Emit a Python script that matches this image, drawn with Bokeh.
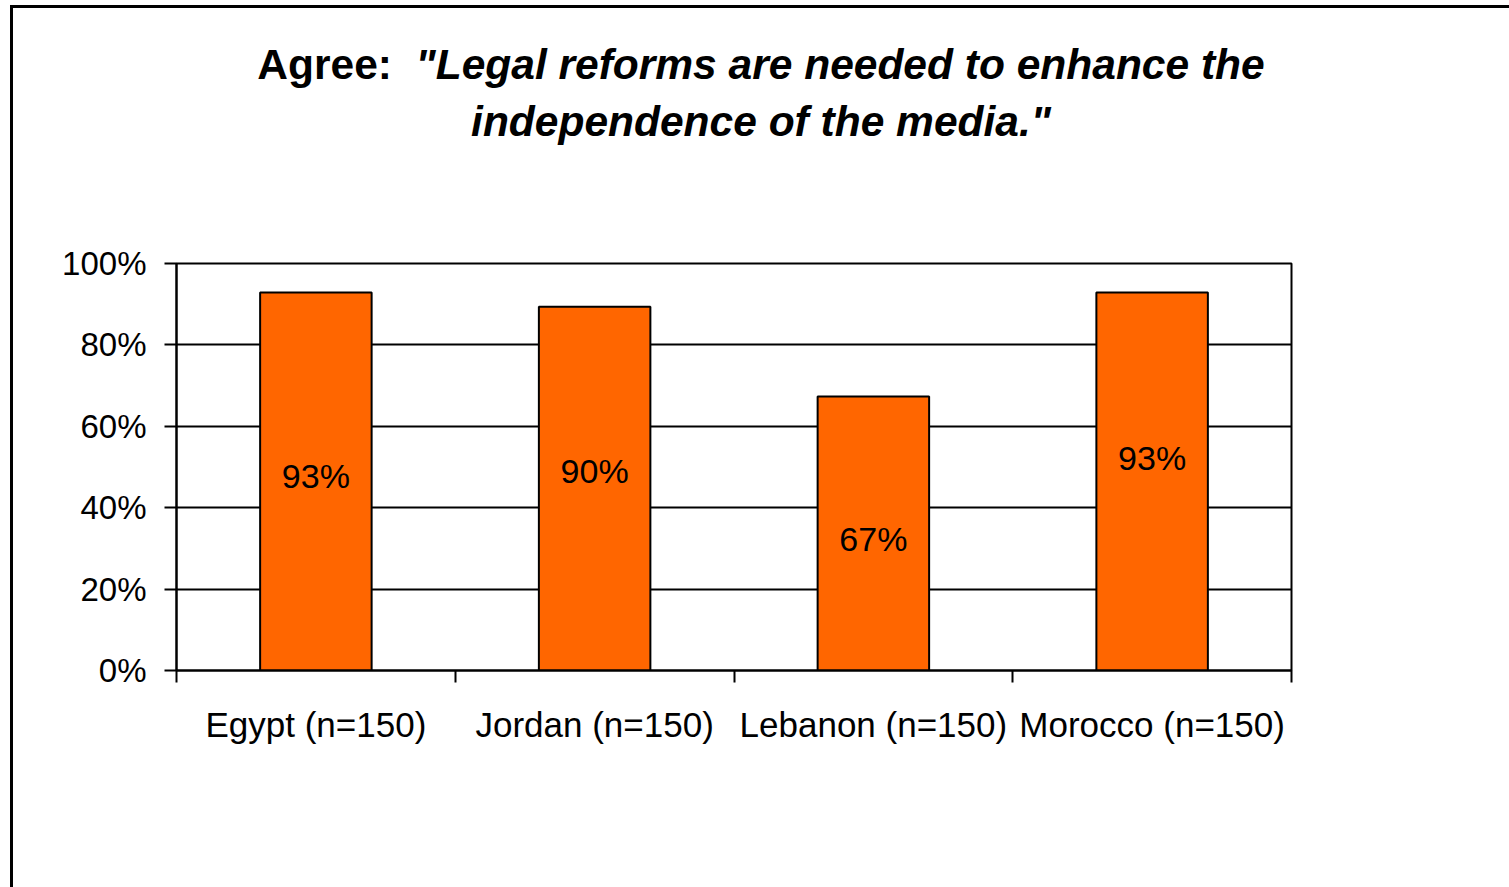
from bokeh.plotting import figure
from bokeh.layouts import column
from bokeh.models import Range1d, FixedTicker, ColumnDataSource, Div
from bokeh.core.properties import value
from bokeh.embed import file_html
from bokeh.resources import INLINE

categories = ["Egypt (n=150)", "Jordan (n=150)", "Lebanon (n=150)", "Morocco (n=150)"]
agree = [0.929, 0.894, 0.673, 0.929]
bar_labels = ["93%", "90%", "67%", "93%"]
label_y = [0.479, 0.490, 0.323, 0.522]
y_ticks = [0.0, 0.2, 0.4, 0.6, 0.8, 1.0]
y_tick_labels = ["0%", "20%", "40%", "60%", "80%", "100%"]
title_lead = "Agree:"
title_quote_1 = "\"Legal reforms are needed to enhance the"
title_quote_2 = "independence of the media.\""

FONT = "Liberation Sans"

centers = [i + 0.5 for i in range(len(categories))]
src = ColumnDataSource(dict(x=centers, top=agree, lab=bar_labels, ly=label_y))

title_div = Div(
    text=(f'<div style="width:1496px;height:230px;box-sizing:border-box;padding-top:28px;'
          f'font-family:\'{FONT}\';font-size:42.5px;font-weight:bold;line-height:57px;'
          f'text-align:center;color:black;">'
          f'{title_lead}&nbsp; <i>{title_quote_1}</i><br><i>{title_quote_2}</i></div>'),
    width=1496, height=230, margin=0)

p = figure(width=1496, height=649, output_backend="svg", toolbar_location=None,
           x_range=Range1d(0, len(categories)), y_range=Range1d(0, 1))
p.min_border_left = 163
p.min_border_right = 218
p.min_border_top = 25
p.min_border_bottom = 217
p.background_fill_color = "white"
p.border_fill_color = "white"
p.outline_line_color = "black"
p.outline_line_width = 2

p.vbar(x="x", top="top", bottom=0, width=0.40, source=src,
       fill_color="#FF6600", line_color="black", line_width=2)

p.text(x="x", y="ly", text="lab", source=src, text_align="center", text_baseline="middle",
       text_font=value(FONT), text_font_size="34px", text_color="black")

# axes
p.xaxis.ticker = FixedTicker(ticks=centers, minor_ticks=list(range(len(categories) + 1)))
p.xaxis.major_label_overrides = {c: lab for c, lab in zip(centers, categories)}
p.xaxis.major_tick_out = 0
p.xaxis.major_tick_in = 0
p.xaxis.minor_tick_out = 12
p.xaxis.minor_tick_in = 0
p.xaxis.minor_tick_line_color = "black"
p.xaxis.minor_tick_line_width = 2
p.xaxis.axis_line_color = "black"
p.xaxis.axis_line_width = 2
p.xaxis.major_label_standoff = 22
p.xaxis.major_label_text_font = FONT
p.xaxis.major_label_text_font_size = "35px"
p.xaxis.major_label_text_color = "black"

p.yaxis.ticker = FixedTicker(ticks=y_ticks, minor_ticks=[])
p.yaxis.major_label_overrides = {t: l for t, l in zip(y_ticks, y_tick_labels)}
p.yaxis.major_tick_out = 12
p.yaxis.major_tick_in = 0
p.yaxis.major_tick_line_color = "black"
p.yaxis.major_tick_line_width = 2
p.yaxis.axis_line_color = "black"
p.yaxis.axis_line_width = 2
p.yaxis.major_label_standoff = 18
p.yaxis.major_label_text_font = FONT
p.yaxis.major_label_text_font_size = "33px"
p.yaxis.major_label_text_color = "black"

p.xgrid.grid_line_color = None
p.ygrid.ticker = FixedTicker(ticks=y_ticks)
p.ygrid.grid_line_color = "black"
p.ygrid.grid_line_width = 2

layout = column(title_div, p, spacing=0,
                styles={"border-left": "3px solid black", "border-top": "3px solid black",
                        "margin-left": "10px", "margin-top": "5px",
                        "background-color": "white"})

open("out.html", "w").write(file_html(layout, INLINE))
